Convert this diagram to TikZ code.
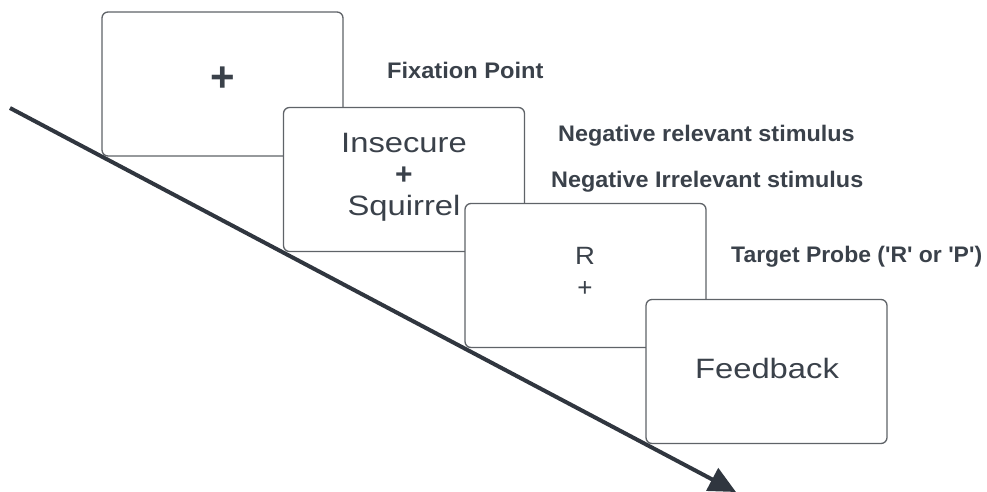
\documentclass[tikz,border=0pt]{standalone}
\usepackage{fontspec}
\setmainfont{Liberation Sans}
\usetikzlibrary{arrows.meta}
\definecolor{inkgray}{HTML}{3A414A}
\definecolor{framegray}{HTML}{5F6368}
\definecolor{linegray}{HTML}{30363F}
\tikzset{
  screen/.style={draw=framegray, fill=white, line width=1.3pt, rounded corners=6pt,
    minimum width=241pt, minimum height=144pt, inner sep=0pt},
  steplabel/.style={text=inkgray, inner sep=0pt, font=\fontsize{22.5}{26}\selectfont\bfseries, anchor=base west},
  word/.style={text=inkgray, inner sep=0pt, font=\fontsize{28}{30}\selectfont, anchor=base},
  timeline/.style={draw=linegray, line width=4pt, -{Triangle[length=27pt,width=25pt]}}
}
\newcommand{\wide}[2][1.17]{\scalebox{#1}[1]{#2}}
\newcommand{\sq}{\textquotesingle}
\begin{document}
\begin{tikzpicture}[x=1pt,y=-1pt]
\useasboundingbox (0,0) rectangle (987,491);
% four stacked screens
\node[screen] (fix) at (222.5,84) {};
\node[screen] (cue) at (404,179.5) {};
\node[screen] (probe) at (585.5,275.5) {};
\node[screen] (fb) at (766.5,371.5) {};
% screen contents
\node[text=inkgray, inner sep=0pt, font=\fontsize{42}{44}\selectfont\bfseries] (fixplus) at (222.5,79) {+};
\node[word] (w1) at (404,152) {\wide{Insecure}};
\node[text=inkgray, inner sep=0pt, font=\fontsize{30}{32}\selectfont\bfseries] (cueplus) at (404,176) {+};
\node[word] (w2) at (404,215) {\wide{Squirrel}};
\node[word, font=\fontsize{25}{27}\selectfont] (letter) at (585,264) {\wide[1.1]{R}};
\node[text=inkgray, inner sep=0pt, font=\fontsize{26}{28}\selectfont] (probeplus) at (585,289) {+};
\node[word] (fbtext) at (767,378) {\wide{Feedback}};
% labels
\node[steplabel] (l1) at (387,78) {\wide[1.05]{Fixation Point}};
\node[steplabel] (l2) at (558,141) {\wide[1.04]{Negative relevant stimulus}};
\node[steplabel] (l3) at (551,187) {\wide[1.04]{Negative Irrelevant stimulus}};
\node[steplabel] (l4) at (731,262) {\wide[1.02]{Target Probe (\sq R\sq{} or \sq P\sq)}};
% time axis
\coordinate (tstart) at (10,108);
\coordinate (tend) at (736,492);
\draw[timeline] (tstart) -- (tend);
\end{tikzpicture}
\end{document}
